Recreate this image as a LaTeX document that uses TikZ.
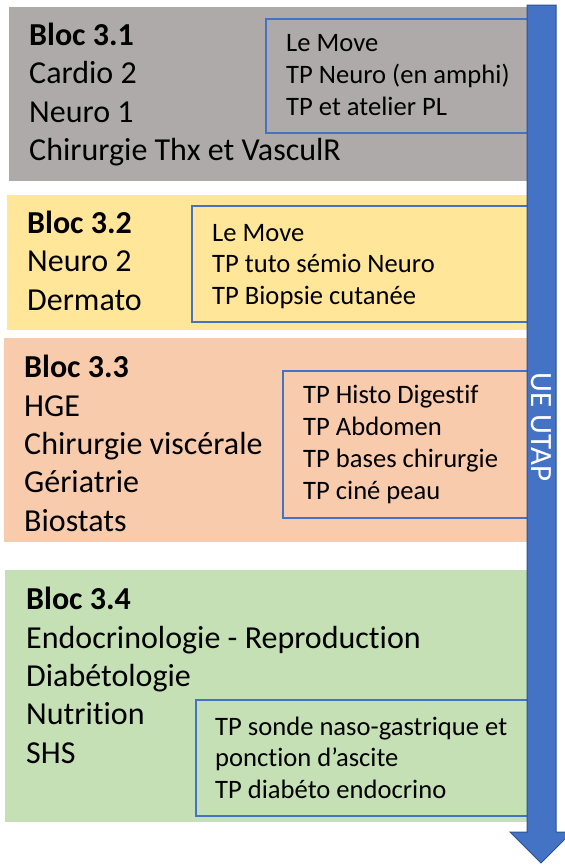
\documentclass[tikz,border=0pt]{standalone}
\usepackage{fontspec}
\setmainfont{Carlito}[Ligatures=NoCommon]
\definecolor{blocgris}{HTML}{AEAAAA}
\definecolor{blocjaune}{HTML}{FFE699}
\definecolor{blocorange}{HTML}{F8CBAD}
\definecolor{blocvert}{HTML}{C5E0B4}
\definecolor{bleuue}{HTML}{4472C4}
\definecolor{bleufonce}{HTML}{2F528F}
\begin{document}
\begin{tikzpicture}[x=1pt,y=-1pt,
  bloctxt/.style={anchor=base west,align=left,inner sep=0pt,font=\fontsize{32}{38.3}\selectfont},
  tptxt/.style={anchor=base west,align=left,inner sep=0pt,font=\fontsize{26.6}{31.7}\selectfont},
  tpbox/.style={draw=bleuue,line width=1.2pt}]
\useasboundingbox (0,0) rectangle (565,865);

\fill[blocgris] (9,7) rectangle (530,181);
\fill[blocjaune] (7,195) rectangle (530,330);
\fill[blocorange] (4,338) rectangle (530,542);
\fill[blocvert] (5,570) rectangle (530,822);

\draw[tpbox] (266,19) rectangle (530,133);
\draw[tpbox] (192,206) rectangle (530,322);
\draw[tpbox] (283,371) rectangle (530,518);
\draw[tpbox] (196,700) rectangle (530,816);

% ancre = ligne de base de la derniere ligne
\node[bloctxt] (b1) at (29,160.5) {\textbf{Bloc 3.1}\\Cardio 2\\Neuro 1\\Chirurgie Thx et VasculR};
\node[bloctxt] (b2) at (27,310) {\textbf{Bloc 3.2}\\Neuro 2\\Dermato};
\node[bloctxt] (b3) at (24,531) {\textbf{Bloc 3.3}\\HGE\\Chirurgie viscérale\\Gériatrie\\Biostats};
\node[bloctxt] (b4) at (26,763) {\textbf{Bloc 3.4}\\Endocrinologie - Reproduction\\Diabétologie\\Nutrition\\SHS};

\node[tptxt] (tp1) at (286,115) {Le Move\\TP Neuro (en amphi)\\TP et atelier PL};
\node[tptxt] (tp2) at (212,304.4) {Le Move\\TP tuto sémio Neuro\\TP Biopsie cutanée};
\node[tptxt] (tp3) at (303,499) {TP Histo Digestif\\TP Abdomen\\TP bases chirurgie\\TP ciné peau};
\node[tptxt] (tp4) at (215,798.4) {TP sonde naso-gastrique et\\ponction d’ascite\\TP diabéto endocrino};

% fleche UE UTAP
\draw[fill=bleuue,draw=bleufonce,line width=1pt]
  (527,5) -- (556,5) -- (556,832) -- (572,832) -- (541,863) -- (510,832) -- (527,832) -- cycle;
\node[rotate=-90,text=white,font=\fontsize{31}{36}\selectfont] (ue) at (541,427) {UE UTAP};
\end{tikzpicture}
\end{document}
